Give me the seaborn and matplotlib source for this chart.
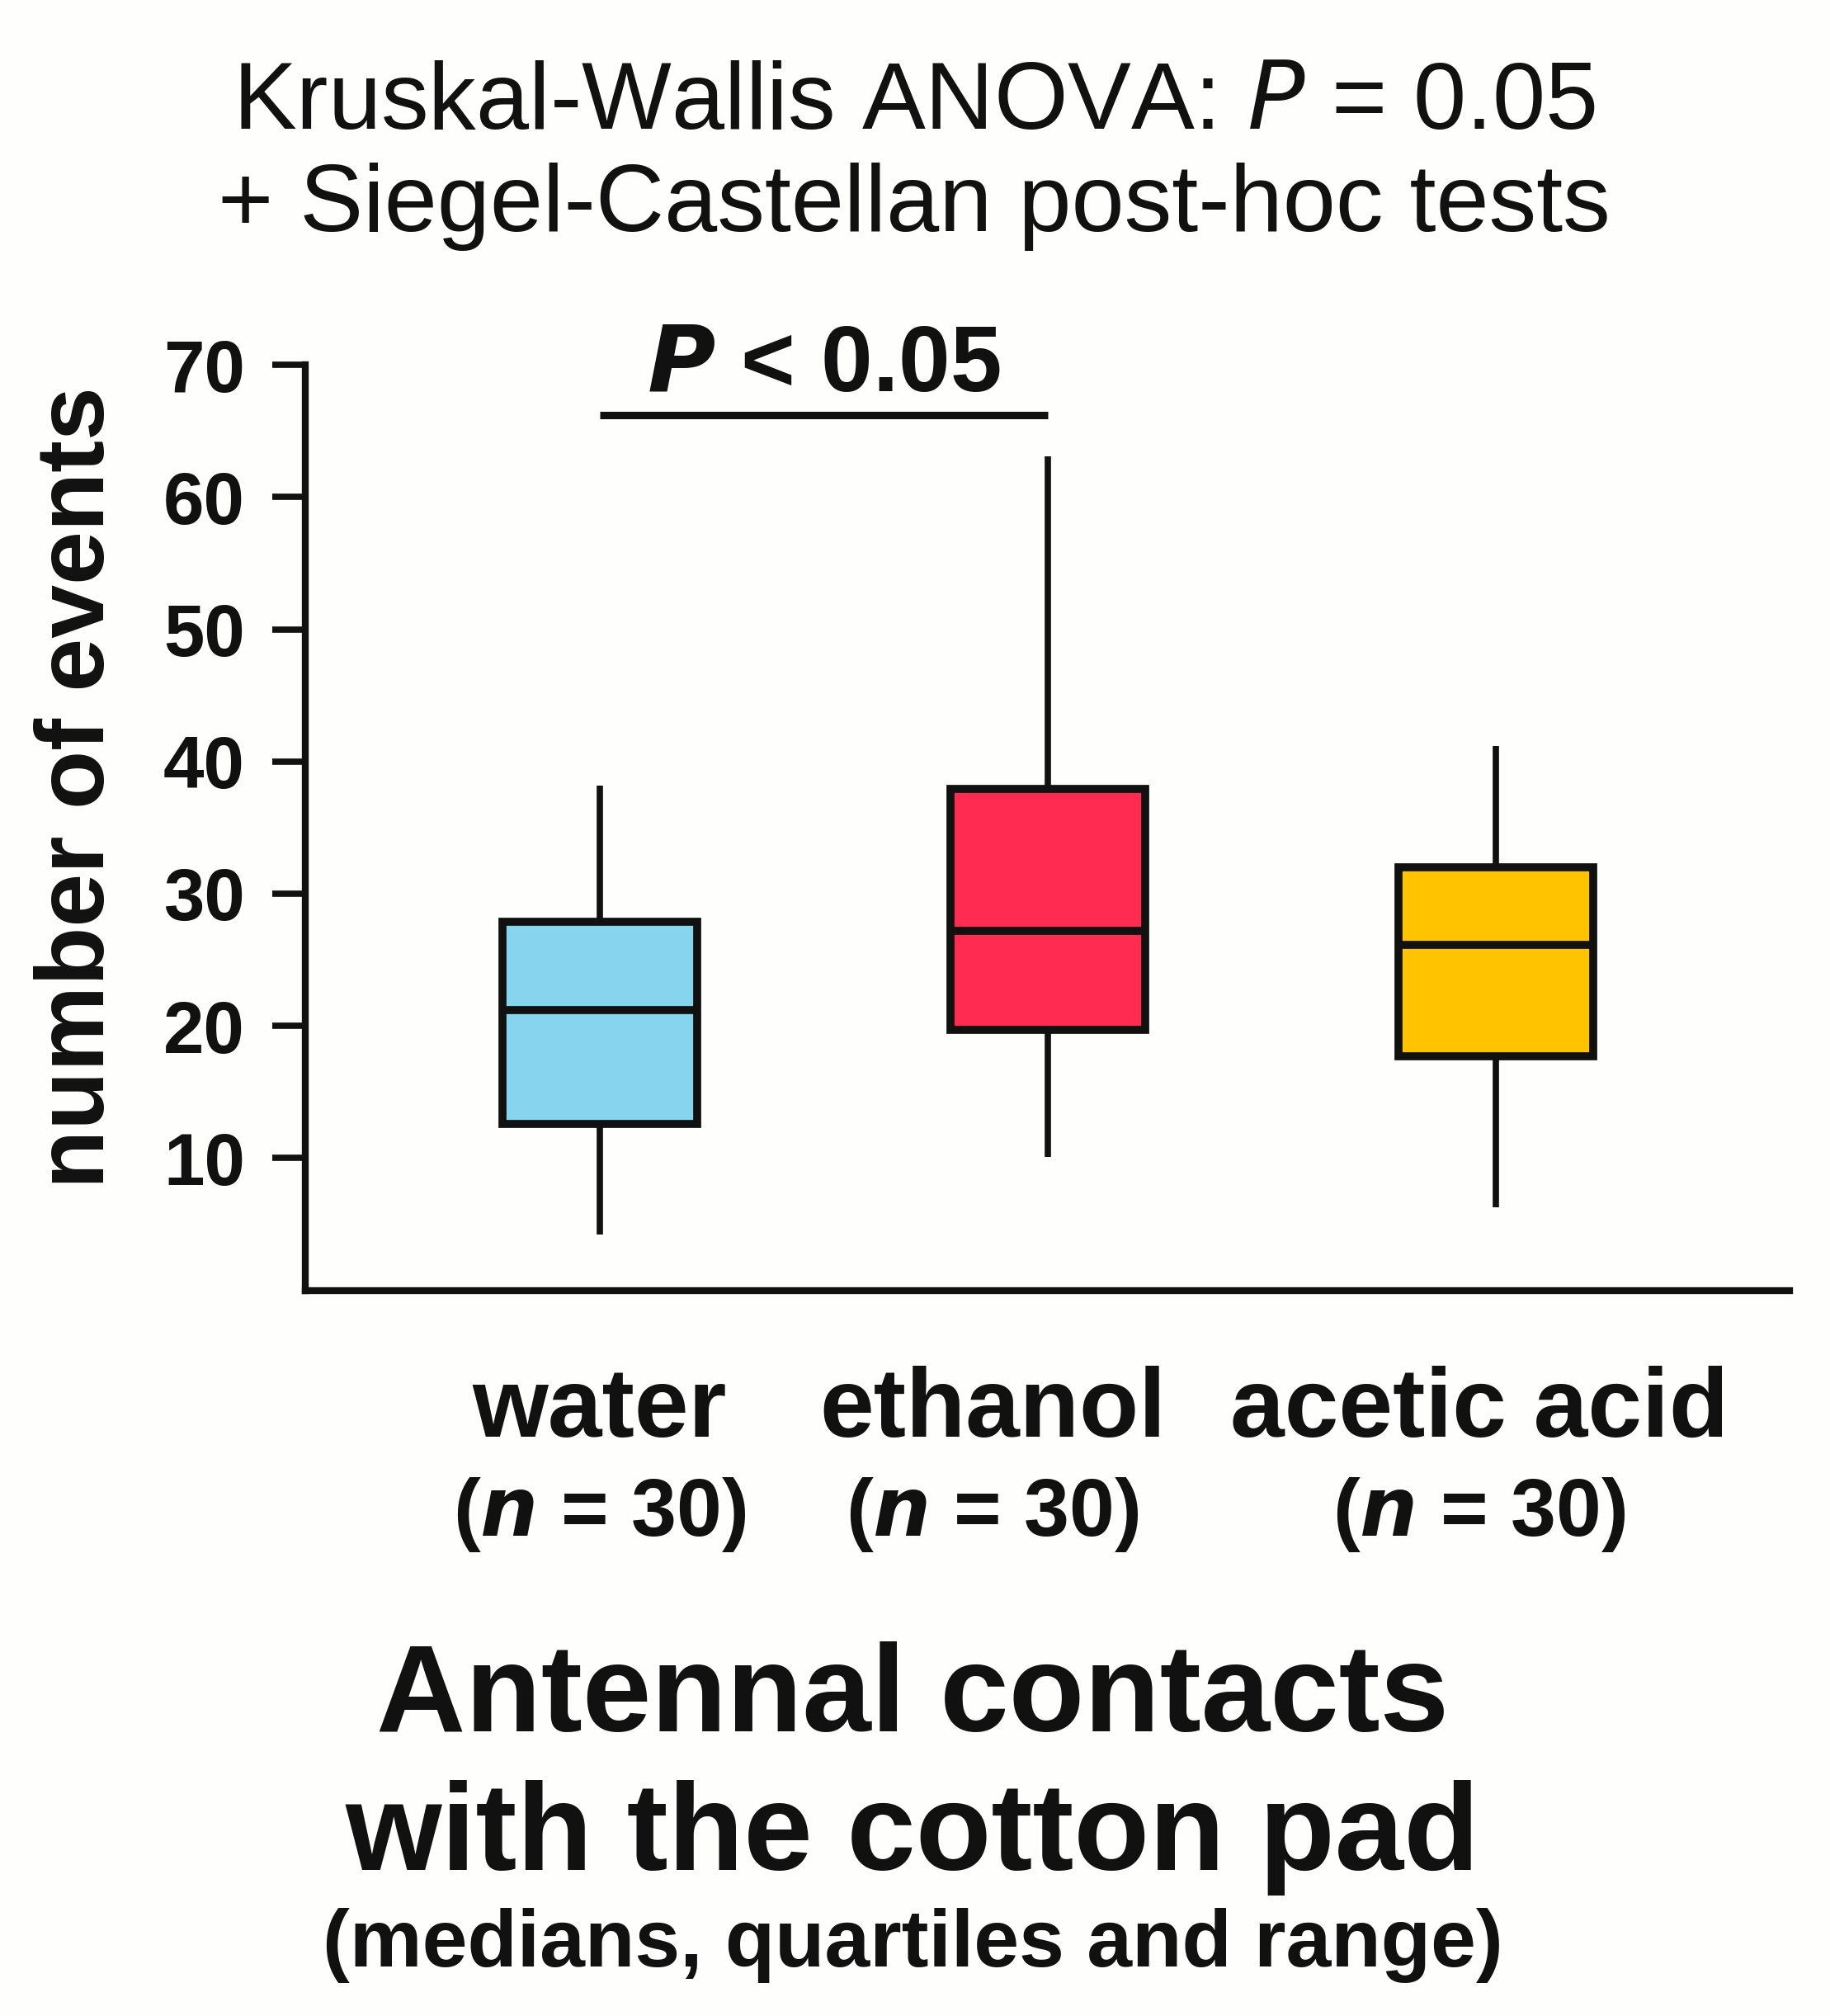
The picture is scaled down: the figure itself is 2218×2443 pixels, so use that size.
import numpy as np
import pandas as pd
import matplotlib
matplotlib.use("Agg")
import matplotlib.pyplot as plt
import matplotlib.transforms as mtransforms
import seaborn as sns

# values (medians, quartiles and range)
groups = ["water", "ethanol", "acetic acid"]
n_sizes = [30, 30, 30]
mins = [4.2, 10.1, 6.3]
q1s = [12.6, 19.7, 17.7]
medians = [21.2, 27.2, 26.1]
q3s = [27.9, 37.9, 32.0]
maxs = [38.2, 63.1, 41.2]
box_colors = ["#87D4EE", "#FF2B50", "#FFC300"]
yticks = [10, 20, 30, 40, 50, 60, 70]
sig_pair = (0, 1)
sig_height = 66.2
sig_text = r"$\mathbfit{P}$ < 0.05"
title_lines = [r"Kruskal-Wallis ANOVA: $\mathit{P}$ = 0.05",
               "+ Siegel-Castellan post-hoc tests"]
bottom_lines = ["Antennal contacts", "with the cotton pad",
                "(medians, quartiles and range)"]

# five-number summary per group -> quartiles come out exactly with whis=(0, 100)
rows = []
for g, a, b, c, d, e in zip(groups, mins, q1s, medians, q3s, maxs):
    for v in (a, b, c, d, e):
        rows.append({"group": g, "value": v})
df = pd.DataFrame(rows)

sns.set_style("ticks")
plt.rcParams["font.family"] = ["Liberation Sans Narrow", "Liberation Sans"]
plt.rcParams["mathtext.fontset"] = "custom"
plt.rcParams["mathtext.rm"] = "Liberation Sans Narrow"
plt.rcParams["mathtext.it"] = "Liberation Sans Narrow:italic"
plt.rcParams["mathtext.bf"] = "Liberation Sans Narrow:bold"
plt.rcParams["mathtext.bfit"] = "Liberation Sans Narrow:italic:bold"

ink = "#111111"
fig = plt.figure(figsize=(22.18, 24.43), dpi=100, facecolor="#fefefc")
ax = fig.add_axes([0.167, 0.360, 0.811, 0.459])
ax.set_facecolor("#fefefc")

sns.boxplot(data=df, x="group", y="value", hue="group", palette=box_colors,
            order=groups, hue_order=groups, saturation=1, whis=(0, 100),
            width=0.435, linewidth=7, linecolor=ink, showcaps=False,
            whiskerprops={"linewidth": 5.5}, fliersize=0, legend=False, ax=ax)

ax.set_xlim(-0.656, 2.656)
ax.set_ylim(0, 70)
sns.despine(ax=ax)
for s in ("left", "bottom"):
    ax.spines[s].set_linewidth(6)
    ax.spines[s].set_color(ink)
ax.spines["left"].set_bounds(0, 70)

ax.set_yticks(yticks)
ax.tick_params(axis="y", length=29, width=5.5, pad=24, labelsize=64,
               color=ink, labelcolor=ink)
for lbl in ax.get_yticklabels():
    lbl.set_fontfamily("Liberation Sans")
    lbl.set_fontweight("bold")
ax.set_xticks([])
ax.set_xlabel("")
ax.set_ylabel("")

# significance bar
ax.plot(list(sig_pair), [sig_height, sig_height], color=ink, lw=6.5,
        solid_capstyle="butt", clip_on=False)
ax.text(np.mean(sig_pair), sig_height + 1.8, sig_text, ha="center", va="baseline",
        fontsize=81, fontweight="bold", color=ink, clip_on=False)

# category labels under the axis
label_x = [0.0, 0.877, 1.963]
trans = mtransforms.blended_transform_factory(ax.transData, fig.transFigure)
for x, g, n in zip(label_x, groups, n_sizes):
    ax.text(x, 0.2873, g, transform=trans, ha="center", va="baseline",
            fontsize=85, fontweight="bold", color=ink)
    ax.text(x, 0.2382, r"($\mathbfit{n}$ = %d)" % n, transform=trans,
            ha="center", va="baseline", fontsize=71, fontweight="bold", color=ink)

fig.text(0.043, 0.6095, "number of events", rotation=90, ha="center", va="center",
         fontsize=84, fontweight="bold", color=ink)

fig.text(0.4996, 0.9361, title_lines[0], ha="center", va="baseline", fontsize=83, color=ink)
fig.text(0.4996, 0.8854, title_lines[1], ha="center", va="baseline", fontsize=83, color=ink)

fig.text(0.4986, 0.1412, bottom_lines[0], ha="center", va="baseline",
         fontsize=108, fontweight="bold", color=ink)
fig.text(0.4986, 0.0725, bottom_lines[1], ha="center", va="baseline",
         fontsize=108, fontweight="bold", color=ink)
fig.text(0.4986, 0.0246, bottom_lines[2], ha="center", va="baseline",
         fontsize=71, fontweight="bold", color=ink)

fig.savefig("out.png", dpi=100, facecolor=fig.get_facecolor())
